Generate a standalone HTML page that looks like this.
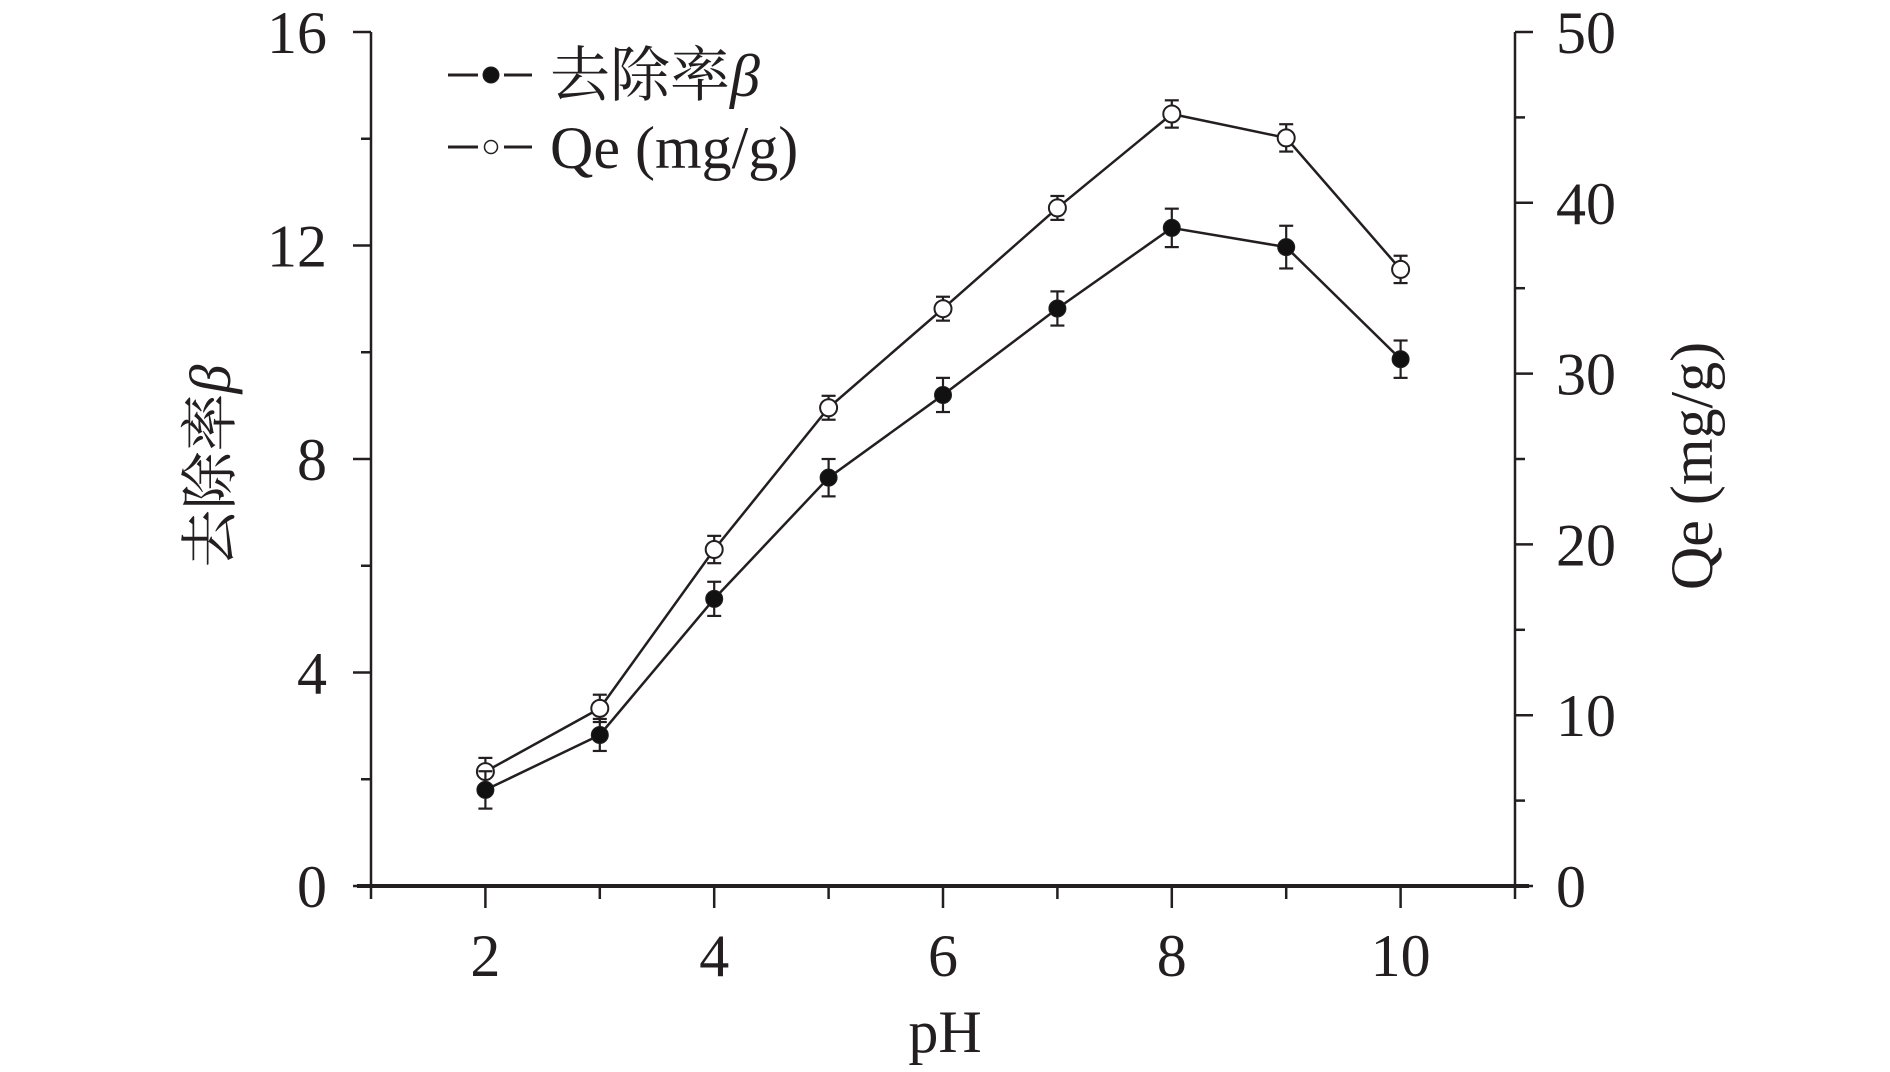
<!DOCTYPE html>
<html><head><meta charset="utf-8"><style>
html,body{margin:0;padding:0;background:#fff;}
svg text{font-family:"Liberation Serif","Noto Serif CJK SC",serif;fill:#231f20;}
</style></head><body>
<svg id="chart" width="1890" height="1067" viewBox="0 0 1890 1067" xmlns="http://www.w3.org/2000/svg"></svg>
<script>
const categories=[2,3,4,5,6,7,8,9,10];
const removalValues=[1.8,2.83,5.38,7.65,9.2,10.82,12.33,11.97,9.87];
const removalErrors=[0.35,0.3,0.32,0.35,0.32,0.32,0.36,0.4,0.35];
const qeValues=[6.7,10.4,19.7,28.0,33.8,39.7,45.2,43.8,36.1];
const qeErrors=[0.8,0.8,0.8,0.7,0.7,0.7,0.8,0.8,0.8];
const leftTicks=[0,4,8,12,16];
const rightTicks=[0,10,20,30,40,50];
const xTicks=[2,4,6,8,10];

const svg=document.getElementById('chart');
const NS='http://www.w3.org/2000/svg';
const X0=371,X1=1515,YB=886,YT=32;
const xs=v=>X0+(v-1)/10*(X1-X0);
const yl=v=>YB-v/16*(YB-YT);
const yr=v=>YB-v/50*(YB-YT);
function mk(tag,attrs,parent){const e=document.createElementNS(NS,tag);for(const k in attrs)e.setAttribute(k,attrs[k]);(parent||svg).appendChild(e);return e;}
const C='#231f20';

const axes=mk('g',{});


mk('line',{x1:X0,y1:YT,x2:X0,y2:YB,stroke:C,'stroke-width':2.5},axes);
mk('line',{x1:X1,y1:YT,x2:X1,y2:YB,stroke:C,'stroke-width':2.5},axes);
mk('line',{x1:X0-14,y1:YB,x2:X1+14,y2:YB,stroke:C,'stroke-width':4},axes);
for(let v=0;v<=16;v+=2){const maj=v%4===0;mk('line',{x1:X0-(maj?18:10),y1:yl(v),x2:X0,y2:yl(v),stroke:C,'stroke-width':2.5},axes);}
for(let v=0;v<=50;v+=5){const maj=v%10===0;mk('line',{x1:X1,y1:yr(v),x2:X1+(maj?18:10),y2:yr(v),stroke:C,'stroke-width':2.5},axes);}
for(let v=1;v<=11;v++){const maj=v%2===0;mk('line',{x1:xs(v),y1:YB,x2:xs(v),y2:YB+(maj?22:13),stroke:C,'stroke-width':2.5},axes);}
leftTicks.forEach(v=>{const t=mk('text',{x:327,y:yl(v)+21,'font-size':60,'text-anchor':'end'});t.textContent=v;

});
rightTicks.forEach(v=>{const t=mk('text',{x:1556,y:yr(v)+21,'font-size':60,'text-anchor':'start'});t.textContent=v;

});
xTicks.forEach(v=>{const t=mk('text',{x:xs(v),y:976,'font-size':60,'text-anchor':'middle'});t.textContent=v;

});
let t=mk('text',{x:945,y:1052,'font-size':60,'text-anchor':'middle'});t.textContent='pH';


t=mk('text',{x:0,y:0,'font-size':58,'text-anchor':'middle',transform:'translate(230,466) rotate(-90)'});
t.innerHTML='去除率<tspan font-style="italic">β</tspan>';


t=mk('text',{x:0,y:0,'font-size':60,'text-anchor':'middle',transform:'translate(1712,466) rotate(-90)'});t.textContent='Qe (mg/g)';



function series(vals,errs,ys,filled,name){
  const g=mk('g',{});
  
  
  mk('polyline',{points:vals.map((v,i)=>xs(categories[i])+','+ys(v)).join(' '),fill:'none',stroke:C,'stroke-width':2.5},g);
  vals.forEach((v,i)=>{const x=xs(categories[i]);const a=ys(v+errs[i]),b=ys(v-errs[i]);
    mk('line',{x1:x,y1:a,x2:x,y2:b,stroke:C,'stroke-width':2.2},g);
    mk('line',{x1:x-7,y1:a,x2:x+7,y2:a,stroke:C,'stroke-width':2.2},g);
    mk('line',{x1:x-7,y1:b,x2:x+7,y2:b,stroke:C,'stroke-width':2.2},g);
    const c=mk('circle',{cx:x,cy:ys(v),r:8.5,fill:filled?'#111':'#fff',stroke:C,'stroke-width':filled?1:2},g);
    
    
  });
}
series(qeValues,qeErrors,yr,false,'qe-series');
series(removalValues,removalErrors,yl,true,'removal-series');

const lg=mk('g',{});


[[75,true,'去除率<tspan font-style="italic">β</tspan>'],[147,false,'Qe (mg/g)']].forEach(([y,f,lab])=>{
  mk('line',{x1:448,y1:y,x2:478,y2:y,stroke:C,'stroke-width':3},lg);
  mk('line',{x1:504,y1:y,x2:532,y2:y,stroke:C,'stroke-width':3},lg);
  mk('circle',{cx:491,cy:y,r:f?8:6.5,fill:f?'#111':'#fff',stroke:C,'stroke-width':f?1:1.5},lg);
  const tx=mk('text',{x:550,y:y+21,'font-size':60},lg);tx.innerHTML=lab;
  
  
});
</script>
</body></html>
